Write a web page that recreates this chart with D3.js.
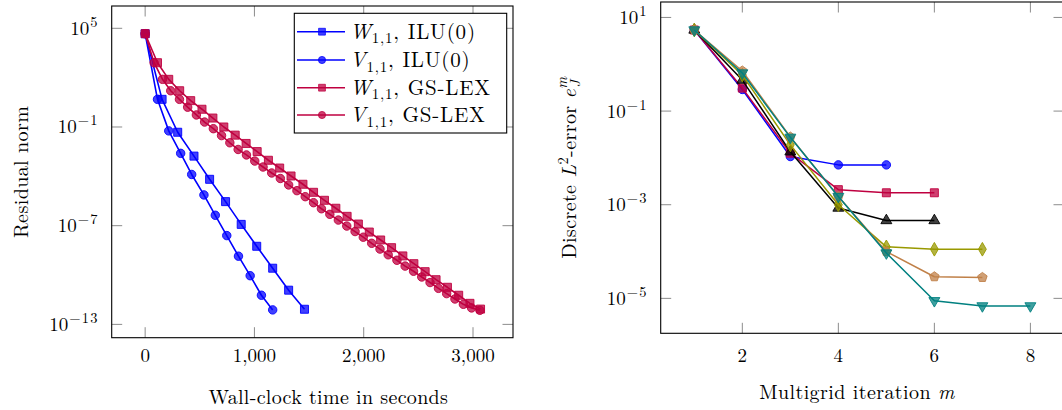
<!DOCTYPE html>
<html><head><meta charset="utf-8">
<script src="https://cdn.jsdelivr.net/npm/d3@7"></script>
<style>
body{margin:0;background:#fff;}
svg{display:block;font-family:"Latin Modern Roman","CMU Serif","Liberation Serif",serif;}
</style></head><body>
<svg id="c" width="1062" height="410"></svg>
<script>
// ---------- Left chart data (wall-clock time [s] vs residual norm) ----------
const wIluTime = [0,155,298,447,590,736,879,1021,1167,1313,1458];
const wIluRes  = [4.7e4,4.8e0,4.8e-2,1.7e-3,6.6e-5,2.9e-6,1.2e-7,5.6e-9,2.6e-10,1.2e-11,8.3e-13];
const vIluTime = [0,113,216,325,426,538,642,747,854,961,1064,1167];
const vIluRes  = [4.7e4,4.8e0,5.8e-2,2.5e-3,1.3e-4,7.4e-6,4.3e-7,2.5e-8,1.4e-9,9.1e-11,5.9e-12,7.6e-13];
const wGsTime = [0,113,216,316,417,520,620,720,824,924,1025,1128,1231,1335,1444,1541,1641,1745,1848,1951,2051,2155,2255,2358,2459,2562,2662,2766,2869,2972,3069];
const wGsRes  = [4.7e4,8.1e2,7.9e1,1.6e1,4.0e0,1.2e0,3.5e-1,1.0e-1,3.2e-2,1.0e-2,3.2e-3,9.5e-4,3.2e-4,1.05e-4,3.3e-5,1.07e-5,3.5e-6,1.15e-6,3.7e-7,1.26e-7,4.1e-8,1.35e-8,4.6e-9,1.45e-9,4.9e-10,1.6e-10,5.2e-11,1.8e-11,5.9e-12,1.9e-12,8.5e-13];
const vGsTime = [0,82,159,234,314,389,469,544,624,699,775,851,927,1003,1079,1158,1237,1313,1389,1465,1541,1613,1690,1768,1845,1921,1996,2073,2149,2224,2304,2379,2456,2531,2607,2684,2759,2835,2912,2987,3063];
const vGsRes  = [4.7e4,8.1e2,7.9e1,1.6e1,4.8e0,1.6e0,5.4e-1,2.0e-1,7.9e-2,3.0e-2,1.1e-2,4.3e-3,2.0e-3,8.5e-4,3.7e-4,1.6e-4,7.4e-5,3.0e-5,1.35e-5,5.8e-6,2.5e-6,1.07e-6,4.9e-7,2.2e-7,9.5e-8,4.4e-8,2.0e-8,8.5e-9,3.8e-9,1.7e-9,7.9e-10,3.5e-10,1.7e-10,7.6e-11,3.5e-11,1.55e-11,7.4e-12,3.5e-12,1.66e-12,1.0e-12,7.2e-13];
const leftXTicks = [0,1000,2000,3000];
const leftYTickExp = [5,-1,-7,-13];
const legendNames = ["W", "V", "W", "V"];
const legendSmoother = ["ILU(0)","ILU(0)","GS-LEX","GS-LEX"];

// ---------- Right chart data (multigrid iteration vs discrete L2 error) ----------
const errBlue   = [5.4,0.29,1.07e-2,7.1e-3,7.1e-3];
const errPurple = [5.4,0.31,1.26e-2,2.1e-3,1.8e-3,1.8e-3];
const errBlack  = [5.4,0.46,1.35e-2,8.5e-4,4.6e-4,4.6e-4];
const errOlive  = [5.4,0.59,1.9e-2,1.0e-3,1.26e-4,1.12e-4,1.12e-4];
const errBrown  = [5.4,0.72,2.8e-2,1.5e-3,1.0e-4,2.9e-5,2.8e-5];
const errTeal   = [5.4,0.65,2.75e-2,1.5e-3,9.3e-5,8.9e-6,6.9e-6,6.9e-6];
const rightXTicks = [2,4,6,8];
const rightYTickExp = [1,-1,-3,-5];

const svg = d3.select("#c");
const TFS = 19;   // tick font
const LFS = 20;   // axis label font
const GFS = 21;   // legend font
const TICKC = "#8c8c8c";

function pentagon(){
  return {draw(ctx,size){const R=Math.sqrt(size)/1.6;for(let i=0;i<5;i++){const a=-Math.PI/2+i*2*Math.PI/5;const x=R*Math.cos(a),y=R*Math.sin(a);i?ctx.lineTo(x,y):ctx.moveTo(x,y);}ctx.closePath();}};
}
const shapes = {
  square: d3.symbol(d3.symbolSquare, 64),
  circle: d3.symbol(d3.symbolCircle, 56),
  tri: d3.symbol(d3.symbolTriangle, 52),
  dtri: d3.symbol(d3.symbolTriangle, 52),
  diamond: d3.symbol(d3.symbolDiamond, 54),
  pent: d3.symbol(pentagon(), 64)
};

function drawFrame(g, L, R, T, B){
  g.append("rect").attr("x",L).attr("y",T).attr("width",R-L).attr("height",B-T)
    .attr("fill","none").attr("stroke","#000").attr("stroke-width",1.1);
}
function sup10(g, x, y, e){
  const t = g.append("text").attr("x",x).attr("y",y).attr("text-anchor","end")
    .attr("font-size",TFS).attr("fill","#000");
  t.append("tspan").text("10");
  t.append("tspan").attr("dy",-8).attr("dx",1).attr("font-size",14.5).attr("letter-spacing",1.2)
    .text(e<0?"\u2212"+(-e):String(e));
}

function series(g, x, y, xs, ys, color, shape, lw, rot){
  const pts = xs.map((d,i)=>[x(d), y(ys[i])]);
  g.append("path").attr("d", d3.line()(pts)).attr("fill","none")
    .attr("stroke",color).attr("stroke-width",lw).attr("stroke-linejoin","round");
  g.selectAll(null).data(pts).join("path")
    .attr("d", shapes[shape])
    .attr("transform", d=>`translate(${d[0]},${d[1]})${rot?" rotate(180)":""}`)
    .attr("fill",color).attr("fill-opacity",0.75)
    .attr("stroke",color).attr("stroke-width",0.9);
}

// ================= LEFT CHART =================
{
  const L=111.7, R=513, T=6, B=337.7;
  const g = svg.append("g");
  const x = d3.scaleLinear().domain([-306,3366]).range([L,R]);
  const y = d3.scaleLog().domain([Math.pow(10,-13.81),Math.pow(10,6.356)]).range([B,T]);
  leftXTicks.forEach(v=>{
    g.append("line").attr("x1",x(v)).attr("x2",x(v)).attr("y1",B).attr("y2",B-10.5).attr("stroke",TICKC);
    g.append("line").attr("x1",x(v)).attr("x2",x(v)).attr("y1",T).attr("y2",T+10.5).attr("stroke",TICKC);
    g.append("text").attr("x",x(v)).attr("y",B+24.5).attr("text-anchor","middle").attr("font-size",TFS)
      .text(d3.format(",")(v));
  });
  leftYTickExp.forEach(e=>{
    const yy=y(Math.pow(10,e));
    g.append("line").attr("x1",L).attr("x2",L+10.5).attr("y1",yy).attr("y2",yy).attr("stroke",TICKC);
    g.append("line").attr("x1",R).attr("x2",R-10.5).attr("y1",yy).attr("y2",yy).attr("stroke",TICKC);
    sup10(g, L-13, yy+6.5, e);
  });
  drawFrame(g,L,R,T,B);
  const blue="#0000ff", purple="#bf0040";
  series(g,x,y,wIluTime,wIluRes,blue,"square",1.6);
  series(g,x,y,vIluTime,vIluRes,blue,"circle",1.6);
  series(g,x,y,wGsTime,wGsRes,purple,"square",1.6);
  series(g,x,y,vGsTime,vGsRes,purple,"circle",1.6);
  g.append("text").attr("x",(L+R)/2+16).attr("y",404).attr("text-anchor","middle").attr("font-size",LFS)
    .attr("letter-spacing",0.3).text("Wall-clock time in seconds");
  g.append("text").attr("transform",`translate(27.5,${(T+B)/2}) rotate(-90)`).attr("text-anchor","middle")
    .attr("font-size",LFS).attr("letter-spacing",0.4).text("Residual norm");
  // legend
  const lg = g.append("g");
  lg.append("rect").attr("x",294.3).attr("y",13.3).attr("width",212.4).attr("height",119.7)
    .attr("fill","#fff").attr("stroke","#000").attr("stroke-width",1.1);
  const cols=[blue,blue,purple,purple], shp=["square","circle","square","circle"];
  [31.7,60,87.7,115].forEach((yy,i)=>{
    lg.append("line").attr("x1",297).attr("x2",345).attr("y1",yy).attr("y2",yy).attr("stroke",cols[i]).attr("stroke-width",1.6);
    lg.append("path").attr("d",shapes[shp[i]]).attr("transform",`translate(322,${yy}) scale(0.85)`)
      .attr("fill",cols[i]).attr("fill-opacity",0.75).attr("stroke",cols[i]).attr("stroke-width",0.9);
    const t=lg.append("text").attr("x",350).attr("y",yy+7).attr("font-size",GFS).attr("letter-spacing",0.8);
    t.append("tspan").attr("font-style","italic").text(legendNames[i]);
    t.append("tspan").attr("dy",4.5).attr("font-size",15).text("1,1");
    t.append("tspan").attr("dy",-4.5).text(", "+legendSmoother[i]);
  });
}

// ================= RIGHT CHART =================
{
  const L=660.7, R=1064, T=2, B=333.3;
  const g = svg.append("g");
  const x = d3.scaleLinear().domain([0.3,8.7]).range([L,R]);
  const y = d3.scaleLog().domain([Math.pow(10,-5.746),Math.pow(10,1.33)]).range([B,T]);
  rightXTicks.forEach(v=>{
    g.append("line").attr("x1",x(v)).attr("x2",x(v)).attr("y1",B).attr("y2",B-10.5).attr("stroke",TICKC);
    g.append("line").attr("x1",x(v)).attr("x2",x(v)).attr("y1",T).attr("y2",T+10.5).attr("stroke",TICKC);
    g.append("text").attr("x",x(v)).attr("y",B+28.5).attr("text-anchor","middle").attr("font-size",TFS).text(v);
  });
  rightYTickExp.forEach(e=>{
    const yy=y(Math.pow(10,e));
    g.append("line").attr("x1",L).attr("x2",L+10.5).attr("y1",yy).attr("y2",yy).attr("stroke",TICKC);
    g.append("line").attr("x1",R).attr("x2",R-10.5).attr("y1",yy).attr("y2",yy).attr("stroke",TICKC);
    sup10(g, L-13, yy+6.5, e);
  });
  drawFrame(g,L,R,T,B);
  const it = n=>d3.range(1,n+1);
  series(g,x,y,it(errBlue.length),errBlue,"#0000ff","circle",1.5);
  series(g,x,y,it(errPurple.length),errPurple,"#bf0040","square",1.5);
  series(g,x,y,it(errBlack.length),errBlack,"#000000","tri",1.5);
  series(g,x,y,it(errOlive.length),errOlive,"#999900","diamond",1.5);
  series(g,x,y,it(errBrown.length),errBrown,"#c08048","pent",1.5);
  series(g,x,y,it(errTeal.length),errTeal,"#008080","dtri",1.5,true);
  const xl = g.append("text").attr("x",857).attr("y",399).attr("text-anchor","middle").attr("font-size",LFS).attr("letter-spacing",0.4);
  xl.append("tspan").text("Multigrid iteration ");
  xl.append("tspan").attr("font-style","italic").text("m");
  const yl = g.append("text").attr("transform",`translate(576,${(T+B)/2}) rotate(-90)`).attr("text-anchor","middle").attr("font-size",LFS).attr("letter-spacing",0.4);
  yl.append("tspan").text("Discrete ");
  yl.append("tspan").attr("font-style","italic").text("L");
  yl.append("tspan").attr("dy",-8).attr("font-size",14.5).text("2");
  yl.append("tspan").attr("dy",8).text("-error ");
  yl.append("tspan").attr("font-style","italic").text("e");
  yl.append("tspan").attr("dy",-9).attr("font-size",14.5).attr("font-style","italic").text("m");
  yl.append("tspan").attr("dy",13).attr("dx",-11).attr("font-size",14.5).attr("font-style","italic").text("J");
}
</script>
</body></html>
